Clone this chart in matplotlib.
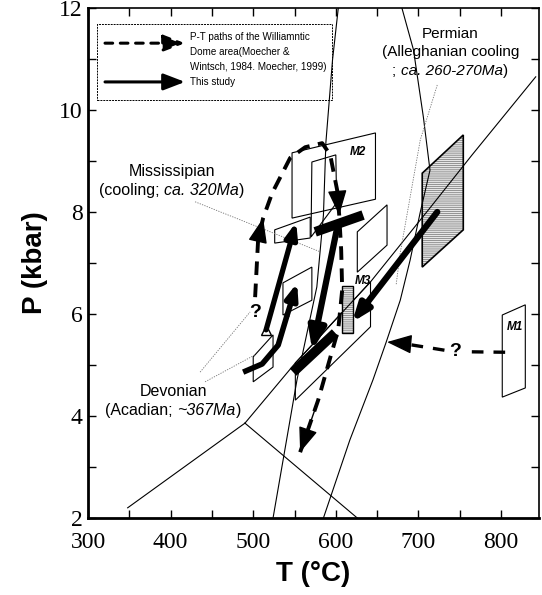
import numpy as np
import matplotlib
import matplotlib.pyplot as plt
from matplotlib.patches import Polygon, Rectangle
from matplotlib.offsetbox import TextArea, HPacker, VPacker, AnnotationBbox
from matplotlib.ticker import MultipleLocator

matplotlib.use('Agg')

SANS = 'Liberation Sans'
SERIF = 'Liberation Serif'

# --- reaction curves (T in degC, P in kbar) ---
and_ky_T = [348, 490]
and_ky_P = [2.2, 3.86]
and_sil_T = [490, 626]
and_sil_P = [3.86, 2.0]
ky_sil_T = [490, 551, 642, 714, 765, 842]
ky_sil_P = [3.86, 5.04, 6.63, 8.08, 9.12, 10.65]
curve1_T = [524, 553, 577, 585, 588, 596, 603]
curve1_P = [2.0, 4.71, 6.53, 7.94, 9.37, 10.98, 12.0]
curve2_T = [585, 617, 645, 661, 678, 690, 702, 714, 706, 694, 680]
curve2_P = [2.0, 3.53, 4.71, 5.45, 6.27, 7.06, 7.98, 8.82, 9.86, 11.18, 12.0]

# --- P-T boxes (corner T, corner P) ---
box_m2_T = [547, 648, 648, 547]
box_m2_P = [9.16, 9.55, 8.25, 7.88]
box_in_T = [571, 600, 601, 570]
box_in_P = [8.98, 9.12, 8.18, 7.51]
box_flat_T = [526, 569, 569, 526]
box_flat_P = [7.65, 7.90, 7.49, 7.39]
box_r_T = [626, 662, 662, 626]
box_r_P = [7.61, 8.14, 7.35, 6.82]
box_low_T = [551, 642, 642, 551]
box_low_P = [5.04, 6.63, 5.75, 4.31]
box_dev_T = [500, 524, 524, 500]
box_dev_P = [5.16, 5.59, 4.96, 4.67]
box_mid_T = [536, 571, 571, 536]
box_mid_P = [6.61, 6.92, 6.27, 5.98]
box_m1_T = [801.5, 829.4, 829.4, 801.5]
box_m1_P = [5.98, 6.18, 4.55, 4.37]
box_perm_T = [704.6, 754.3, 754.3, 704.6]
box_perm_P = [8.76, 9.51, 7.65, 6.92]
m3_T = [607.7, 621.0]
m3_P = [5.63, 6.55]

# --- this study: thick paths ---
a1_T = [515.6, 552.0]
a1_P = [5.69, 7.80]
a2_T = [487.8, 510.8, 530.2, 541.1, 553.2]
a2_P = [4.86, 5.02, 5.39, 5.98, 6.61]
a3_T = [601.6, 571.4]
a3_P = [7.69, 5.29]
a4_T = [722.8, 619.8]
a4_P = [8.00, 5.84]
bar1_T = [575, 633]
bar1_P = [7.61, 7.94]
bar2_T = [548.3, 599.2]
bar2_P = [4.86, 5.63]

# --- Williamntic Dome paths (dashed) ---
d1_T = [502.3, 505.9, 512.0, 522.9, 544.7, 562.9, 583.5, 593.2, 601.6,
        604.1, 606.5, 607.7, 602.9, 590.7, 578.6, 556.8]
d1_P = [6.33, 7.45, 7.88, 8.37, 9.06, 9.27, 9.35, 9.12, 8.43,
        7.94, 7.25, 6.47, 5.69, 5.00, 4.31, 3.29]
d1_heads = [2, 9, 15]
d2_T = [805, 662]
d2_P = [5.25, 5.45]

# --- leader lines ---
lead_mis_T = [429.6, 581]
lead_mis_P = [8.20, 7.22]
lead_dev1_T = [435.7, 496.2]
lead_dev1_P = [4.86, 6.04]
lead_dev2_T = [441.7, 502.3]
lead_dev2_P = [4.67, 5.20]
lead_perm_T = [722.8, 702.2, 678.0, 673.0]
lead_perm_P = [10.49, 9.41, 7.20, 6.57]


def poly(ax, T, P, **kw):
    ax.add_patch(Polygon(np.column_stack([T, P]), closed=True, **kw))


def head(ax, t0, p0, t1, p1, scale=14, lw=1.0):
    ax.annotate('', xy=(t1, p1), xytext=(t0, p0),
                arrowprops=dict(arrowstyle='-|>,head_length=1.3,head_width=0.5',
                                lw=lw, color='k', shrinkA=0, shrinkB=0,
                                mutation_scale=scale))


def label_block(ax, x, y, lines, size):
    rows = []
    for parts in lines:
        areas = [TextArea(s, textprops=dict(family=SANS, size=size,
                                            style='italic' if it else 'normal'))
                 for s, it in parts]
        rows.append(HPacker(children=areas, align='baseline', pad=0, sep=0))
    box = VPacker(children=rows, align='center', pad=0, sep=3)
    ab = AnnotationBbox(box, (x, y), xycoords='data', frameon=False,
                        box_alignment=(0.5, 0.5), pad=0)
    ax.add_artist(ab)


fig = plt.figure(figsize=(5.42, 5.95), dpi=100)
ax = fig.add_axes([0.1624, 0.1294, 0.8321, 0.8572])
ax.set_xlim(300, 846)
ax.set_ylim(2, 12)

thin = dict(color='k', lw=0.8)
ax.plot(and_ky_T, and_ky_P, **thin)
ax.plot(and_sil_T, and_sil_P, **thin)
ax.plot(ky_sil_T, ky_sil_P, **thin)
ax.plot(curve1_T, curve1_P, **thin)
ax.plot(curve2_T, curve2_P, **thin)

for T, P in [(lead_mis_T, lead_mis_P), (lead_dev1_T, lead_dev1_P),
             (lead_dev2_T, lead_dev2_P), (lead_perm_T, lead_perm_P)]:
    ax.plot(T, P, color='0.45', lw=0.6, ls=(0, (1.5, 1.5)))

for T, P in [(box_m2_T, box_m2_P), (box_in_T, box_in_P),
             (box_flat_T, box_flat_P), (box_r_T, box_r_P),
             (box_low_T, box_low_P), (box_dev_T, box_dev_P),
             (box_mid_T, box_mid_P), (box_m1_T, box_m1_P)]:
    poly(ax, T, P, fill=False, ec='k', lw=0.8)

plt.rcParams['hatch.linewidth'] = 0.5
poly(ax, box_perm_T, box_perm_P, fc='0.9', ec='0.45', hatch='--------', lw=0)
poly(ax, box_perm_T, box_perm_P, fill=False, ec='k', lw=1.2)
ax.add_patch(Rectangle((m3_T[0], m3_P[0]), m3_T[1] - m3_T[0],
                       m3_P[1] - m3_P[0], fc='0.9', ec='0.45',
                       hatch='--------', lw=0))
ax.add_patch(Rectangle((m3_T[0], m3_P[0]), m3_T[1] - m3_T[0],
                       m3_P[1] - m3_P[0], fill=False, ec='k', lw=1.0))

# dashed literature paths
ax.plot(d1_T, d1_P, color='k', lw=2.8, ls=(0, (3.5, 2.2)))
for i in d1_heads:
    head(ax, d1_T[i - 1], d1_P[i - 1], d1_T[i], d1_P[i], scale=12)
mid = (d2_T[0] + d2_T[1]) / 2 + 10
ax.plot([d2_T[0], mid + 12], [d2_P[0], d2_P[0] + 0.01], color='k', lw=2.4,
        ls=(0, (3.5, 3)))
ax.plot([mid - 12, d2_T[1] + 12], [d2_P[0] + 0.04, d2_P[1] - 0.01],
        color='k', lw=2.4, ls=(0, (3.5, 3)))
head(ax, d2_T[1] + 14, d2_P[1] - 0.02, d2_T[1], d2_P[1], scale=12)
ax.text(mid + 1, d2_P[0] + 0.02, '?', family=SANS, weight='bold', size=14,
        ha='center', va='center')
ax.text(d1_T[0], d1_P[0] - 0.3, '?', family=SANS, weight='bold', size=14,
        ha='center', va='center')

# this study: thick paths
ax.plot(bar1_T, bar1_P, color='k', lw=7, solid_capstyle='butt')
ax.plot(bar2_T, bar2_P, color='k', lw=7, solid_capstyle='butt')
ax.plot(a2_T[:-1], a2_P[:-1], color='k', lw=4, solid_capstyle='butt')
head(ax, a2_T[-2], a2_P[-2], a2_T[-1], a2_P[-1], scale=7, lw=4)
head(ax, a1_T[0], a1_P[0], a1_T[1], a1_P[1], scale=7, lw=3.8)
head(ax, a3_T[0], a3_P[0], a3_T[1], a3_P[1], scale=10, lw=4.5)
head(ax, a4_T[0], a4_P[0], a4_T[1], a4_P[1], scale=8, lw=4.5)
ax.plot(a1_T[0], a1_P[0], marker='^', ms=7, mfc='white', mec='k', mew=1)

# legend box
ax.add_patch(Rectangle((0.020, 0.8196), 0.521, 0.149, transform=ax.transAxes,
                       fill=False, ec='k', lw=0.7, ls=(0, (2, 1))))
ax.annotate('', xy=(0.215, 0.931), xytext=(0.0377, 0.931),
            xycoords='axes fraction',
            arrowprops=dict(arrowstyle='-|>,head_length=1.3,head_width=0.5',
                            lw=2.2, ls=(0, (2.5, 2.5)), color='k',
                            shrinkA=0, shrinkB=0, mutation_scale=10))
ax.annotate('', xy=(0.215, 0.855), xytext=(0.0377, 0.855),
            xycoords='axes fraction',
            arrowprops=dict(arrowstyle='-|>,head_length=1.3,head_width=0.5',
                            lw=2.2, color='k', shrinkA=0, shrinkB=0,
                            mutation_scale=10))
for ytxt, s in zip([0.943, 0.914, 0.885, 0.855],
                   ['P-T paths of the Williamntic', 'Dome area(Moecher &',
                    'Wintsch, 1984. Moecher, 1999)', 'This study']):
    ax.text(0.226, ytxt, s, transform=ax.transAxes, family=SANS, size=7.1,
            va='center', ha='left')

# region labels
label_block(ax, 401.7, 8.6, [[('Mississipian', False)],
                             [('(cooling; ', False), ('ca. 320Ma', True),
                              (')', False)]], 11.5)
label_block(ax, 403, 4.29, [[('Devonian', False)],
                            [('(Acadian; ', False), ('~367Ma', True),
                             (')', False)]], 11.5)
label_block(ax, 738.5, 11.13, [[('Permian', False)],
                               [('(Alleghanian cooling', False)],
                               [('; ', False), ('ca. 260-270Ma', True),
                                (')', False)]], 11)
for t, p, s in [(817, 5.75, 'M1'), (627, 9.18, 'M2'), (633, 6.65, 'M3')]:
    ax.text(t, p, s, family=SANS, weight='bold', style='italic', size=8.5,
            ha='center', va='center')

# axes styling
ax.xaxis.set_major_locator(MultipleLocator(100))
ax.xaxis.set_minor_locator(MultipleLocator(50))
ax.yaxis.set_major_locator(MultipleLocator(2))
ax.yaxis.set_minor_locator(MultipleLocator(1))
ax.tick_params(which='both', direction='in', length=6, width=1,
               top=True, right=True)
ax.tick_params(axis='x', pad=10)
ax.tick_params(axis='y', pad=4)
for lab in ax.get_xticklabels() + ax.get_yticklabels():
    lab.set_family(SERIF)
    lab.set_size(17)
for side in ['left', 'bottom']:
    ax.spines[side].set_linewidth(2)
for side in ['top', 'right']:
    ax.spines[side].set_linewidth(1.2)

ax.set_xlabel('T (°C)', family=SANS, weight='bold', size=20, labelpad=6)
ax.set_ylabel('P (kbar)', family=SANS, weight='bold', size=20, labelpad=8)

fig.savefig('out.png', dpi=100)
